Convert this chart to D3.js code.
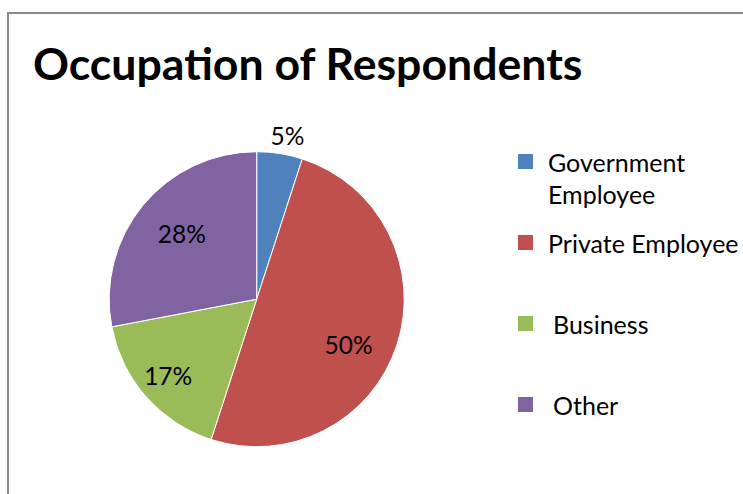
<!DOCTYPE html>
<html>
<head>
<meta charset="utf-8">
<script src="https://cdn.jsdelivr.net/npm/d3@7"></script>
<style>
  html, body { margin: 0; padding: 0; background: #fff; }
  svg { display: block; font-family: Lato, "Open Sans", sans-serif; }
</style>
</head>
<body>
<svg id="chart" width="743" height="494"></svg>
<script>
// Occupation shares (percent)
const categories = ["Government Employee", "Private Employee", "Business", "Other"];
const values = [5, 50, 17, 28];
const colors = ["#4F81BD", "#C0504D", "#9BBB59", "#8064A2"];
const legendLines = [["Government", "Employee"], ["Private Employee"], ["Business"], ["Other"]];
const titleText = "Occupation of Respondents";

const W = 743, H = 494;
const svg = d3.select("#chart");

// chart frame
svg.append("rect")
  .attr("x", 8).attr("y", 13)
  .attr("width", W).attr("height", H)
  .attr("fill", "#fff")
  .attr("stroke", "#8a8a8a")
  .attr("stroke-width", 2);

// title
svg.append("text")
  .attr("x", 33).attr("y", 80)
  .attr("font-size", 44.6)
  .attr("font-weight", 700)
  .attr("fill", "#000")
  .text(titleText);

// pie
const cx = 256.7, cy = 299.2, R = 147.5;
const data = categories.map((c, i) => ({ name: c, value: values[i], color: colors[i] }));
const pie = d3.pie().value(d => d.value).sort(null);
const arcs = pie(data);
const arc = d3.arc().innerRadius(0).outerRadius(R);

const g = svg.append("g").attr("transform", `translate(${cx},${cy})`);
g.selectAll("path.slice")
  .data(arcs)
  .join("path")
  .attr("class", "slice")
  .attr("d", arc)
  .attr("fill", d => d.data.color)
  .attr("stroke", "#fff")
  .attr("stroke-width", 1);

// label placement: radius as a fraction of R and an angular nudge (radians)
const labelPlacement = {
  "Government Employee": { k: 1.12, da: 0.03 },
  "Private Employee":    { k: 0.70, da: 0.16 },
  "Business":            { k: 0.80, da: 0.0 },
  "Other":               { k: 0.67, da: 0.02 }
};
const fmt = d3.format(".0%");
g.selectAll("text.lbl")
  .data(arcs)
  .join("text")
  .attr("class", "lbl")
  .attr("text-anchor", "middle")
  .attr("font-size", 24.5)
  .attr("fill", "#000")
  .attr("transform", d => {
    const p = labelPlacement[d.data.name];
    const a = (d.startAngle + d.endAngle) / 2 + p.da;
    const r = R * p.k;
    return `translate(${r * Math.sin(a)},${-r * Math.cos(a) + 8})`;
  })
  .text(d => fmt(d.data.value / 100));

// legend
const legendRows = [
  { y: 154, tx: 548 },
  { y: 235, tx: 548 },
  { y: 316, tx: 553 },
  { y: 397, tx: 553 }
];
const lg = svg.append("g");
data.forEach((d, i) => {
  const row = legendRows[i];
  lg.append("rect")
    .attr("x", 518).attr("y", row.y)
    .attr("width", 15).attr("height", 15)
    .attr("fill", d.color);
  const t = lg.append("text")
    .attr("x", row.tx).attr("y", row.y + 18)
    .attr("font-size", 25)
    .attr("fill", "#000");
  legendLines[i].forEach((line, j) => {
    t.append("tspan").attr("x", row.tx).attr("dy", j === 0 ? 0 : 32).text(line);
  });
});
</script>
</body>
</html>
